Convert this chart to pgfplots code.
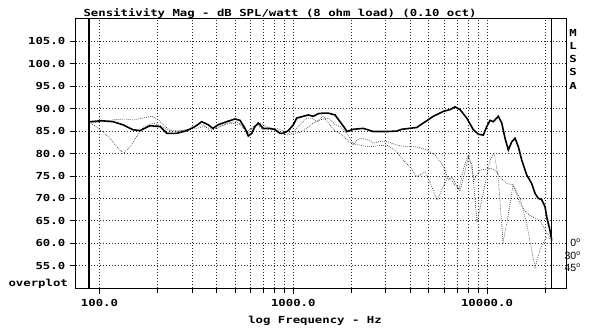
\documentclass[border=0pt]{standalone}
\usepackage{fontspec}
\usepackage{pgfplots}
\usepackage{pgfplotstable}
\pgfplotsset{compat=1.18}
\newfontfamily\chartfont[FakeStretch=1.27]{DejaVu Sans Mono}
\newfontfamily\degfont{Liberation Sans}
\newcommand{\cf}{\chartfont\bfseries\fontsize{9.7bp}{11bp}\selectfont}
\newcommand{\dg}{\raisebox{0.75ex}{\fontsize{7bp}{7bp}\selectfont o}}

\pgfplotstableread{
f db
88.3 87.1
90.1 87.1
102.6 87.3
117.4 87.1
132.2 86.4
148.9 85.3
161.8 85.1
182.2 86.2
205.3 86.0
222.3 84.5
250.3 84.5
281.9 85.1
311.1 86.0
336.9 87.1
364.3 86.4
385.2 85.6
408.8 86.4
453.5 87.1
500.4 87.7
531.0 87.4
563.6 85.6
586.2 83.9
610.3 84.5
634.7 86.0
660.1 86.8
700.5 85.6
758.6 85.6
805.1 85.3
854.4 84.5
888.5 84.5
942.9 85.1
1000.7 86.4
1042 87.9
1127 88.3
1196 88.6
1269 88.3
1347 88.9
1429 89.0
1517 89.0
1643 88.6
1743 87.1
1850 85.6
1888 84.9
2041 85.4
2299 85.6
2590 84.9
3036 84.9
3420 85.0
3628 85.4
4337 85.8
4691 86.8
5283 88.3
5951 89.4
6442 89.8
6835 90.4
7254 89.8
7859 87.9
8499 85.3
9018 84.3
9570 84.1
9964 86.0
10363 87.4
10777 87.1
11437 88.3
11909 86.8
12385 83.4
12880 80.8
13414 82.6
13949 83.4
14509 81.5
15108 78.5
16032 75.2
17012 73.3
17690 71.1
18398 70.0
19158 69.7
19929 68.1
20333 65.8
21145 62.8
21574 60.6
}\zerodeg

\pgfplotstableread{
f db
90.1 86.8
96.7 85.9
104.6 84.7
113.3 83.4
122.7 81.5
132.7 80.0
143.7 81.5
155.6 83.8
168.3 85.9
189.6 86.8
205.3 86.2
222.3 85.3
250.3 84.9
281.9 85.3
317.5 85.6
343.4 86.0
371.8 85.6
418.7 86.0
471.6 86.8
531.0 86.4
575.2 84.9
610.3 85.6
647.6 86.4
700.5 85.3
788.8 85.4
854.4 84.9
925.1 84.1
1000.7 84.5
1083 84.7
1173 85.6
1269 86.8
1374 87.5
1517 87.9
1643 86.5
1743 86.0
1850 84.9
1963 83.4
2041 81.9
2126 83.0
2256 83.4
2440 83.0
2590 82.3
2803 82.7
3036 82.7
3420 81.9
3851 81.5
4337 81.5
4885 80.8
5391 79.7
5720 78.2
6071 76.3
6314 74.1
6597 74.8
6918 73.0
7256 71.6
7700 76.0
8074 79.7
8570 74.0
9202 76.3
10363 76.7
10999 76.3
11812 74.5
12683 73.3
13620 73.0
14802 68.8
16088 66.6
17275 65.8
18770 65.1
20402 62.1
21145 61.5
}\thirtydeg

\pgfplotstableread{
f db
90.1 86.8
104.6 87.1
117.8 87.5
132.7 87.7
149.5 87.5
168.3 87.9
186.0 88.3
201.2 87.5
213.5 86.4
231.2 85.1
260.3 85.1
293.2 85.4
317.5 86.4
343.4 86.4
371.8 85.1
402.6 85.6
453.5 86.8
510.8 87.1
552.4 86.0
586.2 84.5
622.2 86.0
673.9 86.8
758.6 85.6
821.4 85.6
888.6 85.1
942.9 84.5
1000.7 84.9
1083 86.4
1173 87.9
1245 87.9
1321 87.1
1429 88.3
1517 86.8
1643 85.0
1743 84.5
1850 83.5
1963 82.5
2126 82.0
2440 81.5
3036 81.9
3420 80.4
3698 78.5
4005 77.0
4337 74.8
4786 76.0
5202 72.5
5520 69.6
5857 72.0
6290 75.0
6675 73.5
7168 72.0
7607 77.0
7980 79.5
8368 77.5
8880 64.6
9537 71.0
10363 78.5
10867 80.2
11400 75.0
12094 60.2
12835 66.0
13620 73.0
14802 70.0
16088 64.0
17075 58.0
17690 54.6
18770 58.5
20160 61.3
21145 61.0
}\fortyfivedeg

\begin{document}
\begin{tikzpicture}[x=1bp,y=1bp]
\begin{axis}[
  scale only axis,
  width=490.3bp, height=269bp,
  xmode=log,
  xmin=75.4, xmax=25560,
  ymin=50, ymax=110,
  axis line style={black, line width=1bp},
  xtick={100,1000,10000},
  xticklabels={100.0,1000.0,10000.0},
  minor xtick={200,300,400,500,600,700,800,900,2000,3000,4000,5000,6000,7000,8000,9000,20000},
  ytick={55,60,65,70,75,80,85,90,95,100,105},
  yticklabels={55.0,60.0,65.0,70.0,75.0,80.0,85.0,90.0,95.0,100.0,105.0},
  grid=both,
  major grid style={black!85, line width=0.7bp, dash pattern=on 1bp off 2bp},
  minor grid style={black!85, line width=0.7bp, dash pattern=on 1bp off 2bp},
  tick align=outside,
  xtick pos=left, ytick pos=left,
  major tick length=6bp, minor tick length=5bp,
  tick style={black, line width=0.8bp},
  ticklabel style={font=\cf},
  yticklabel style={xshift=-1bp},
  xticklabel style={yshift=-2bp},
]
\addplot[black, line width=1.3bp] coordinates {(88.3,50) (88.3,110)};
\addplot[black, line width=1.3bp] coordinates {(21600,50) (21600,110)};
\addplot[black!80, line width=0.6bp, dash pattern=on 0.8bp off 1.2bp] table[x=f,y=db] {\thirtydeg};
\addplot[black!80, line width=0.6bp, dash pattern=on 0.8bp off 1.2bp] table[x=f,y=db] {\fortyfivedeg};
\addplot[black, line width=1.6bp] table[x=f,y=db] {\zerodeg};
\end{axis}
\node[anchor=base west, font=\cf] at (4.3,272) {Sensitivity Mag - dB SPL/watt (8 ohm load) (0.10 oct)};
\node[anchor=base west, font=\cf] at (-70.7,1.5) {overplot};
\node[anchor=base, font=\cf] at (239.3,-35) {log Frequency - Hz};
\node[font=\cf] at (497.3,255) {M};
\node[font=\cf] at (497.3,242) {L};
\node[font=\cf] at (497.3,229) {S};
\node[font=\cf] at (497.3,216) {S};
\node[font=\cf] at (497.3,202) {A};
\node[anchor=east, font=\degfont\fontsize{10.5bp}{11bp}\selectfont] at (508,45) {0\dg};
\node[anchor=east, font=\degfont\fontsize{10.5bp}{11bp}\selectfont] at (508,32) {30\dg};
\node[anchor=east, font=\degfont\fontsize{10.5bp}{11bp}\selectfont] at (508,20) {45\dg};
\pgfresetboundingbox
\path[use as bounding box] (-75.7,-42) rectangle (515.3,288);
\end{tikzpicture}
\end{document}
